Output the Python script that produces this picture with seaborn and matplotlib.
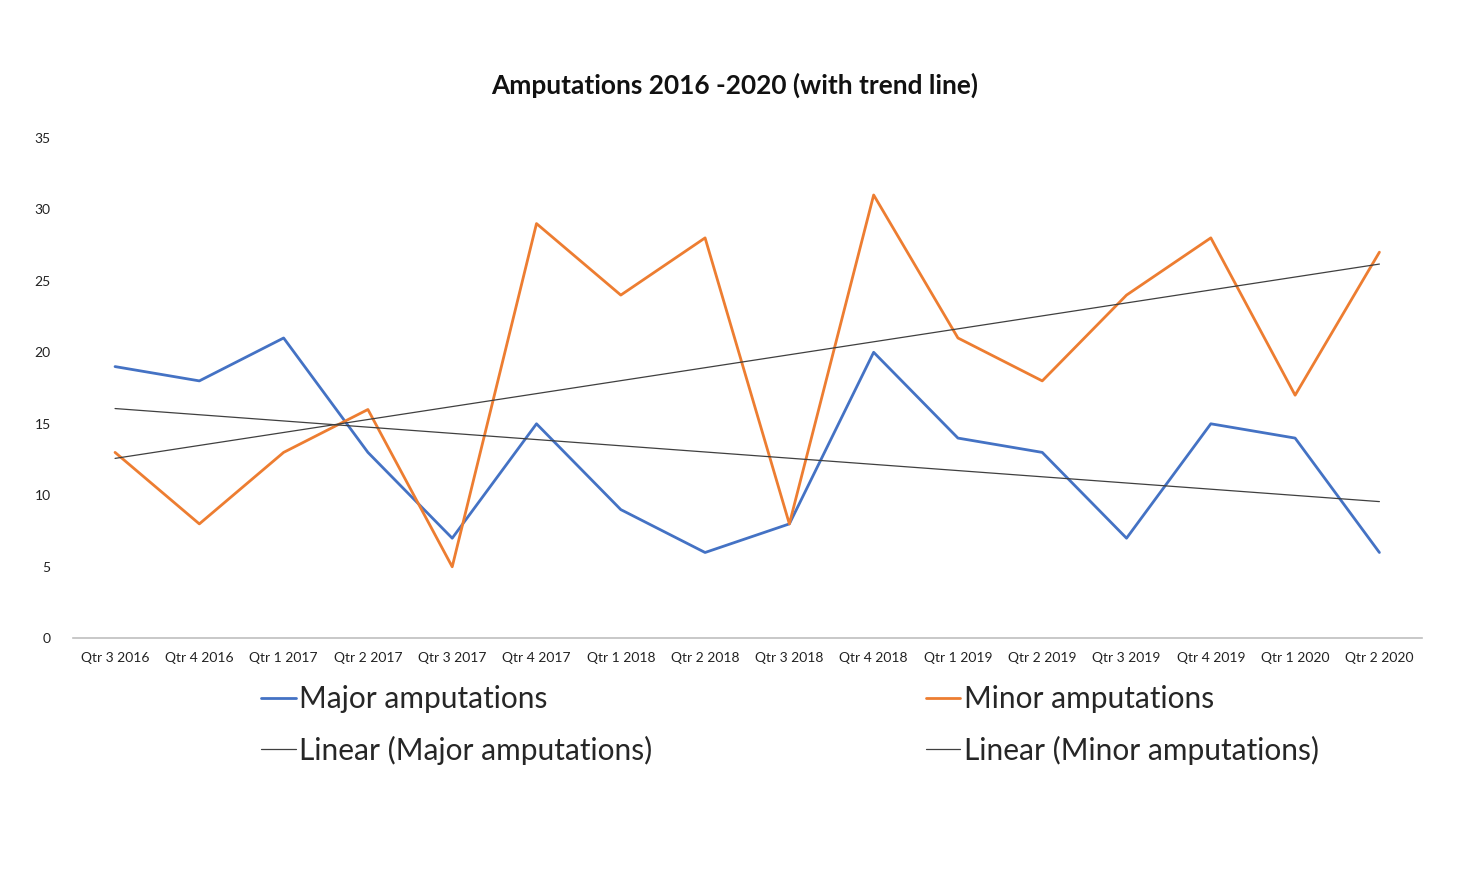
import matplotlib
matplotlib.use("Agg")
import matplotlib.pyplot as plt
import seaborn as sns
import pandas as pd
import numpy as np
from matplotlib.lines import Line2D

quarters = ["Qtr 3 2016", "Qtr 4 2016", "Qtr 1 2017", "Qtr 2 2017", "Qtr 3 2017",
            "Qtr 4 2017", "Qtr 1 2018", "Qtr 2 2018", "Qtr 3 2018", "Qtr 4 2018",
            "Qtr 1 2019", "Qtr 2 2019", "Qtr 3 2019", "Qtr 4 2019", "Qtr 1 2020",
            "Qtr 2 2020"]
major = [19, 18, 21, 13, 7, 15, 9, 6, 8, 20, 14, 13, 7, 15, 14, 6]
minor = [13, 8, 13, 16, 5, 29, 24, 28, 8, 31, 21, 18, 24, 28, 17, 27]
yticks = [0, 5, 10, 15, 20, 25, 30, 35]

sns.set_theme(style="white")
plt.rcParams['font.family'] = ['Lato', 'DejaVu Sans']

blue = "#4472C4"
orange = "#ED7D31"
trend = "#404040"

df = pd.DataFrame({"idx": np.arange(len(quarters)), "quarter": quarters,
                   "Major": major, "Minor": minor})

fig = plt.figure(figsize=(14.58, 8.72), dpi=100)
ax = fig.add_axes([0.050, 0.268, 0.925, 0.574])

sns.lineplot(data=df, x="idx", y="Major", ax=ax, color=blue, linewidth=2)
sns.lineplot(data=df, x="idx", y="Minor", ax=ax, color=orange, linewidth=2)
sns.regplot(data=df, x="idx", y="Major", ax=ax, scatter=False, ci=None,
            color=trend, line_kws={"linewidth": 0.9})
sns.regplot(data=df, x="idx", y="Minor", ax=ax, scatter=False, ci=None,
            color=trend, line_kws={"linewidth": 0.9})

ax.set_xlim(-0.5, len(quarters) - 0.5)
ax.set_ylim(0, 35)
ax.set_yticks(yticks)
ax.set_yticklabels([str(v) for v in yticks], fontsize=10, color="#222222")
ax.set_xticks(df["idx"])
ax.set_xticklabels(quarters, fontsize=10, color="#222222")
ax.tick_params(axis="both", length=0)
ax.tick_params(axis="y", pad=16)
ax.tick_params(axis="x", pad=10)
ax.set_xlabel("")
ax.set_ylabel("")
for s in ["top", "right", "left"]:
    ax.spines[s].set_visible(False)
ax.spines["bottom"].set_color("#BFBFBF")
ax.spines["bottom"].set_linewidth(1.2)

fig.text(0.504, 0.902, "Amputations 2016 -2020 (with trend line)",
         ha="center", va="center", fontsize=18.9, fontweight="bold", color="#111111")

handles = [Line2D([], [], color=blue, linewidth=2),
           Line2D([], [], color=trend, linewidth=0.9),
           Line2D([], [], color=orange, linewidth=2),
           Line2D([], [], color=trend, linewidth=0.9)]
labels = ["Major amputations", "Linear (Major amputations)",
          "Minor amputations", "Linear (Minor amputations)"]
fig.legend(handles, labels, ncol=2, loc="upper left",
           bbox_to_anchor=(0.171, 0.228), frameon=False, fontsize=21.5,
           handlelength=1.15, handletextpad=0.12, columnspacing=9.16,
           labelspacing=0.75, borderaxespad=0)

fig.savefig("out.png", dpi=100, facecolor="white")
